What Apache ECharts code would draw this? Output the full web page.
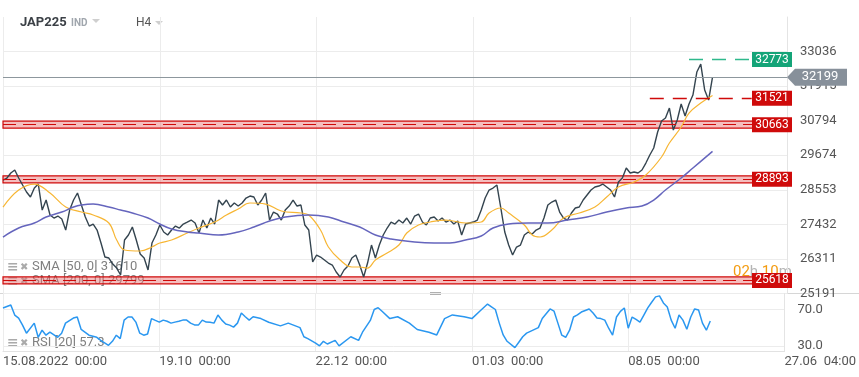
<!DOCTYPE html>
<html><head><meta charset="utf-8">
<script src="https://cdn.jsdelivr.net/npm/echarts@6.0.0/dist/echarts.min.js"></script>
<style>html,body{margin:0;padding:0;background:#fff}#c{width:859px;height:377px}</style>
</head><body><div id="c"></div>
<script>
// ---- data ----
const symbolName = 'JAP225';
const xLabels = ['15.08.2022  00:00', '19.10  00:00', '22.12  00:00', '01.03  00:00', '08.05  00:00', '27.06  04:00'];
const barsPerLabel = 40;
const priceTicks = [25191, 26311, 27432, 28553, 29674, 30794, 31915, 33036];
const rsiTicks = [30, 70];
const price = [28870,28935,29097,29194,28935,28708,28481,28319,28611,28740,
27898,28222,27736,27639,27704,27607,27250,27898,28222,28449,
28060,27671,27380,27445,27250,26829,26376,26343,26149,26019,
25793,26926,27088,27347,26926,26473,26343,25955,26829,27088,
27412,27186,27088,27250,27380,27315,27445,27509,27574,27477,
27153,27574,27315,27639,27445,28222,28060,28222,27995,28125,
28028,28125,28287,28352,28319,28060,28222,28449,27574,27833,
27769,27574,27898,28028,28222,28028,28060,27412,27250,26214,
26441,26376,26279,26181,26117,25890,25728,25955,26084,26343,
26441,26117,25728,26181,26764,26343,26764,27088,27315,27509,
27445,27574,27477,27639,27445,27704,27769,27509,27412,27639,
27671,27542,27639,27509,27574,27445,27542,27088,27445,27477,
27509,27574,27898,28287,28546,28611,28708,27963,27186,26764,
26441,26700,26764,27088,27186,27121,27250,27315,27639,28060,
28157,28222,27833,27639,27574,27801,27963,27995,28222,28384,
28546,28643,28675,28740,28643,28546,28319,28805,28935,29258,
29097,29129,29097,29194,29420,29680,29906,30425,30781,30878,
31202,30489,30813,31331,30943,31331,31623,32368,32627,31785,
31461,32199];
const sma50 = [[0,27995],[4,28546],[8,28740],[12,28449],[16,27995],[20,27833],[23,27736],[27,27477],[29,26926],[31,26603],
[35,26570],[38,26700],[40,26829],[43,26926],[47,27153],[50,27315],[54,27509],[57,27736],[60,27931],[63,28125],
[67,28092],[71,27866],[76,27801],[78,27736],[81,27250],[83,26700],[86,26279],[89,26052],[91,26052],[93,26019],
[95,26279],[98,26505],[101,26764],[103,27153],[106,27412],[109,27509],[113,27574],[118,27477],[122,27509],[124,27801],
[127,27963],[129,27801],[133,27412],[135,27088],[137,27024],[140,27250],[143,27639],[147,27801],[151,27995],[154,28319],
[157,28643],[161,28805],[164,29032],[168,29615],[170,30068],[173,30586],[175,31040],[178,31364],[181,31610]];
const sma200 = [[0,27024],[4,27315],[8,27477],[11,27671],[15,27833],[18,27995],[20,28060],[23,28092],[27,27995],[30,27898],
[33,27801],[37,27639],[40,27445],[43,27283],[47,27186],[50,27153],[55,27088],[60,27186],[64,27347],[68,27542],
[72,27671],[78,27736],[83,27671],[87,27509],[91,27347],[95,27088],[99,26959],[105,26862],[110,26829],[114,26829],
[118,26926],[122,27056],[125,27315],[129,27445],[134,27477],[139,27477],[144,27574],[149,27671],[154,27833],[159,27963],
[163,28028],[166,28222],[169,28546],[173,28935],[176,29258],[181,29799]];
const rsi = [[0,71.7],[2,75],[3,63.9],[4,60.6],[5,52.8],[6,43.9],[8,55],[9,39.4],[10,47.2],[11,41.7],[12,45],[14,39.4],[15,43.9],
[16,55],[18,60.6],[19,61.7],[20,48],[22,41.7],[24,39.4],[25,36.1],[27,30.6],[28,35],[29,41.7],[30,38],[31,58.3],[32,61.7],
[33,61.7],[34,56.1],[35,43.9],[36,41.7],[37,43],[38,60],[39,58],[40,56.1],[41,58.3],[42,57],[43,55],[44,56.1],[45,57],
[46,58.3],[47,58.3],[48,55],[49,53],[50,52.8],[51,58.3],[52,56.1],[53,56],[54,55],[55,63.9],[56,58.3],[57,54],[58,52.8],
[59,50.6],[60,55],[61,66.1],[62,62],[63,58.3],[64,62],[66,60],[68,56],[71,52],[73,55],[76,50],[77,40],[78,38],[80,33],
[81,30],[82,35],[83,32],[85,36],[86,30],[89,40],[91,36],[92,45],[94,58],[95,70],[96,72],[97,68],[99,60],[101,62],[104,55],
[106,48],[109,45],[111,42],[113,60],[115,64],[118,62],[120,60],[122,68],[124,76],[125,73],[126,70],[127,55],[128,42],
[129,35],[131,28],[132,34],[133,40],[134,44],[137,50],[138,60],[140,70.6],[141,68.3],[142,55],[143,41.7],[144,39.4],
[145,47.2],[146,61.7],[147,64],[148,67.2],[150,70.6],[151,66.1],[152,60.6],[153,60],[154,58.3],[155,49.4],[156,41.7],
[157,61.7],[158,68],[159,71.7],[160,49.4],[161,61.7],[162,59],[163,56.1],[164,63.9],[165,71.7],[166,78],[167,83.9],
[168,85],[169,77.2],[170,72.8],[171,58.3],[172,49.4],[173,63.9],[174,58.3],[175,48.3],[176,61.7],[177,70.6],[178,69.4],
[179,55],[180,47.2],[181,57.3]];
const lastPrice = 32199;
const resistanceLevel = 32773;
const lineLevel = 31521;
const zoneLevels = [30663, 28893, 25618];
const sma50Last = 31610, sma200Last = 29799, rsiLast = 57.3;
const lineLevelStart = 165, resistanceStart = 175;
const timerText = ['02', 'h ', '10', 'm'];

// ---- build ----
const nCats = (xLabels.length - 1) * barsPerLabel + 1;
const cats = Array.from({length: nCats}, (_, i) => String(i));
const lastIdx = nCats - 1;
const FONT = 'Roboto, "DejaVu Sans", sans-serif';
const tickOn = (i) => i % barsPerLabel === 0;
const zoneHalf = 113;
const RED = '#cf0a0a';

const chart = echarts.init(document.getElementById('c'), null, {renderer: 'canvas'});

const boxPoint = (v, color) => ({
  coord: [lastIdx, v], value: v, symbol: 'rect', symbolSize: [40, 15], symbolOffset: [-15, 0],
  itemStyle: {color: color},
  label: {show: true, position: 'inside', color: '#fff', fontSize: 12, fontFamily: FONT, formatter: String(v)}
});

const legendRow = (y, label) => [
  {type: 'text', x: 7, y: y, z: 0, style: {text: '≡', font: 'bold 14px "DejaVu Sans"', fill: '#aaa', verticalAlign: 'middle'}},
  {type: 'text', x: 20, y: y, z: 0, style: {text: '✖', font: '10px "DejaVu Sans"', fill: '#aaa', verticalAlign: 'middle'}},
  {type: 'text', x: 32, y: y, z: 0, style: {text: label, font: '13px ' + FONT, fill: '#808080', verticalAlign: 'middle'}}
];

const option = {
  animation: false,
  backgroundColor: '#fff',
  grid: [
    {left: 3, right: 72, top: 17, height: 276.6},
    {left: 3, right: 72, top: 293.6, height: 57.4}
  ],
  xAxis: [
    {gridIndex: 0, type: 'category', data: cats, boundaryGap: false,
     axisLine: {show: false}, axisTick: {show: false}, axisLabel: {show: false},
     splitLine: {show: true, interval: tickOn, lineStyle: {color: '#ececec'}}},
    {gridIndex: 1, type: 'category', data: cats, boundaryGap: false,
     axisLine: {show: true, lineStyle: {color: '#e2e2e2'}}, axisTick: {show: false},
     axisLabel: {show: true, interval: tickOn, formatter: (v, i) => xLabels[i / barsPerLabel] || '',
       align: 'left', margin: 4, fontSize: 13, color: '#555', fontFamily: FONT},
     splitLine: {show: true, interval: tickOn, lineStyle: {color: '#ececec'}}}
  ],
  yAxis: [
    {gridIndex: 0, type: 'value', position: 'right', min: 25191, max: 34150,
     axisLine: {show: true, lineStyle: {color: '#e4e4e4'}},
     axisTick: {show: false, customValues: priceTicks},
     axisLabel: {customValues: priceTicks, margin: 13, fontSize: 13, color: '#555', fontFamily: FONT, formatter: v => String(v)},
     splitLine: {show: true, lineStyle: {color: '#ececec'}}},
    {gridIndex: 1, type: 'value', position: 'right', min: 24.3, max: 87.5,
     axisLine: {show: true, lineStyle: {color: '#e4e4e4'}},
     axisTick: {show: false, customValues: rsiTicks},
     axisLabel: {customValues: rsiTicks, margin: 13, fontSize: 13, color: '#555', fontFamily: FONT, formatter: v => v.toFixed(1)},
     splitLine: {show: true, lineStyle: {color: '#ececec'}}}
  ],
  series: [
    {name: symbolName, type: 'line', xAxisIndex: 0, yAxisIndex: 0, data: price, showSymbol: false, clip: false,
     lineStyle: {color: '#34444f', width: 1.4}, z: 2,
     markArea: {silent: true,
       itemStyle: {color: 'rgba(232,110,110,0.45)', borderColor: RED, borderWidth: 1.2},
       data: zoneLevels.map(v => [{yAxis: v - zoneHalf}, {yAxis: v + zoneHalf}])},
     markLine: {silent: true, symbol: 'none', label: {show: false},
       data: [
         ...zoneLevels.map(v => ({yAxis: v, lineStyle: {color: RED, type: [13, 7], width: 1.2}})),
         {yAxis: lastPrice, lineStyle: {color: '#8d979d', type: 'solid', width: 1}},
         [{coord: [lineLevelStart, lineLevel], lineStyle: {color: RED, type: [14, 9], width: 1.3}}, {coord: [lastIdx - 9, lineLevel]}],
         [{coord: [resistanceStart, resistanceLevel], lineStyle: {color: '#2fb98c', type: [14, 9], width: 1.3}}, {coord: [lastIdx - 9, resistanceLevel]}]
       ]},
     markPoint: {silent: true,
       data: [
         boxPoint(resistanceLevel, '#14a478'),
         boxPoint(lineLevel, RED),
         ...zoneLevels.map(v => boxPoint(v, RED)),
         {coord: [lastIdx, lastPrice], value: lastPrice,
          symbol: 'path://M0,8.5 L8,0 L60,0 L60,17 L8,17 Z', symbolSize: [60, 17], symbolOffset: [30, 0],
          itemStyle: {color: '#87909a'},
          label: {show: true, position: 'inside', offset: [3, 0], color: '#fff', fontSize: 13, fontFamily: FONT, formatter: String(lastPrice)}}
       ]}
    },
    {name: 'SMA50', type: 'line', xAxisIndex: 0, yAxisIndex: 0, data: sma50, showSymbol: false, smooth: 0.4,
     lineStyle: {color: '#f7b634', width: 1.2}, z: 3},
    {name: 'SMA200', type: 'line', xAxisIndex: 0, yAxisIndex: 0, data: sma200, showSymbol: false, smooth: 0.4,
     lineStyle: {color: '#6565bd', width: 1.5}, z: 3},
    {name: 'RSI', type: 'line', xAxisIndex: 1, yAxisIndex: 1, data: rsi, showSymbol: false,
     lineStyle: {color: '#2a97f0', width: 1.5}}
  ],
  graphic: [
    {type: 'text', x: 20, y: 23, z: 0, style: {text: symbolName, font: 'bold 13px ' + FONT, fill: '#3b4046', verticalAlign: 'middle'}},
    {type: 'text', x: 71, y: 23, z: 0, style: {text: 'IND', font: 'bold 10px ' + FONT, fill: '#a0a6ad', verticalAlign: 'middle'}},
    {type: 'polygon', z: 0, shape: {points: [[92, 19], [100, 19], [96, 23]]}, style: {fill: '#cfcfcf'}},
    {type: 'text', x: 136, y: 23, z: 0, style: {text: 'H4', font: '12px ' + FONT, fill: '#555', verticalAlign: 'middle'}},
    {type: 'polygon', z: 0, shape: {points: [[155, 21], [163, 21], [159, 25]]}, style: {fill: '#cfcfcf'}},
    {type: 'line', z: 0, shape: {x1: 0, y1: 293.5, x2: 859, y2: 293.5}, style: {stroke: '#d6d6d6', lineWidth: 1}},
    {type: 'rect', z: 0, shape: {x: 430, y: 292, width: 11, height: 3}, style: {fill: '#b0b0b0'}},
    {type: 'text', x: 733, y: 272, z: 0, style: {text: '{o|' + timerText[0] + '}{g|' + timerText[1] + '}{o|' + timerText[2] + '}{g|' + timerText[3] + '}',
      verticalAlign: 'middle',
      rich: {o: {fill: '#f39c12', fontSize: 15, fontFamily: FONT}, g: {fill: '#b5b5b5', fontSize: 15, fontFamily: FONT}}}},
    ...legendRow(267, 'SMA [50, 0] ' + sma50Last),
    ...legendRow(281, 'SMA [200, 0] ' + sma200Last),
    ...legendRow(343, 'RSI [20] ' + rsiLast)
  ]
};
chart.setOption(option);
</script></body></html>
